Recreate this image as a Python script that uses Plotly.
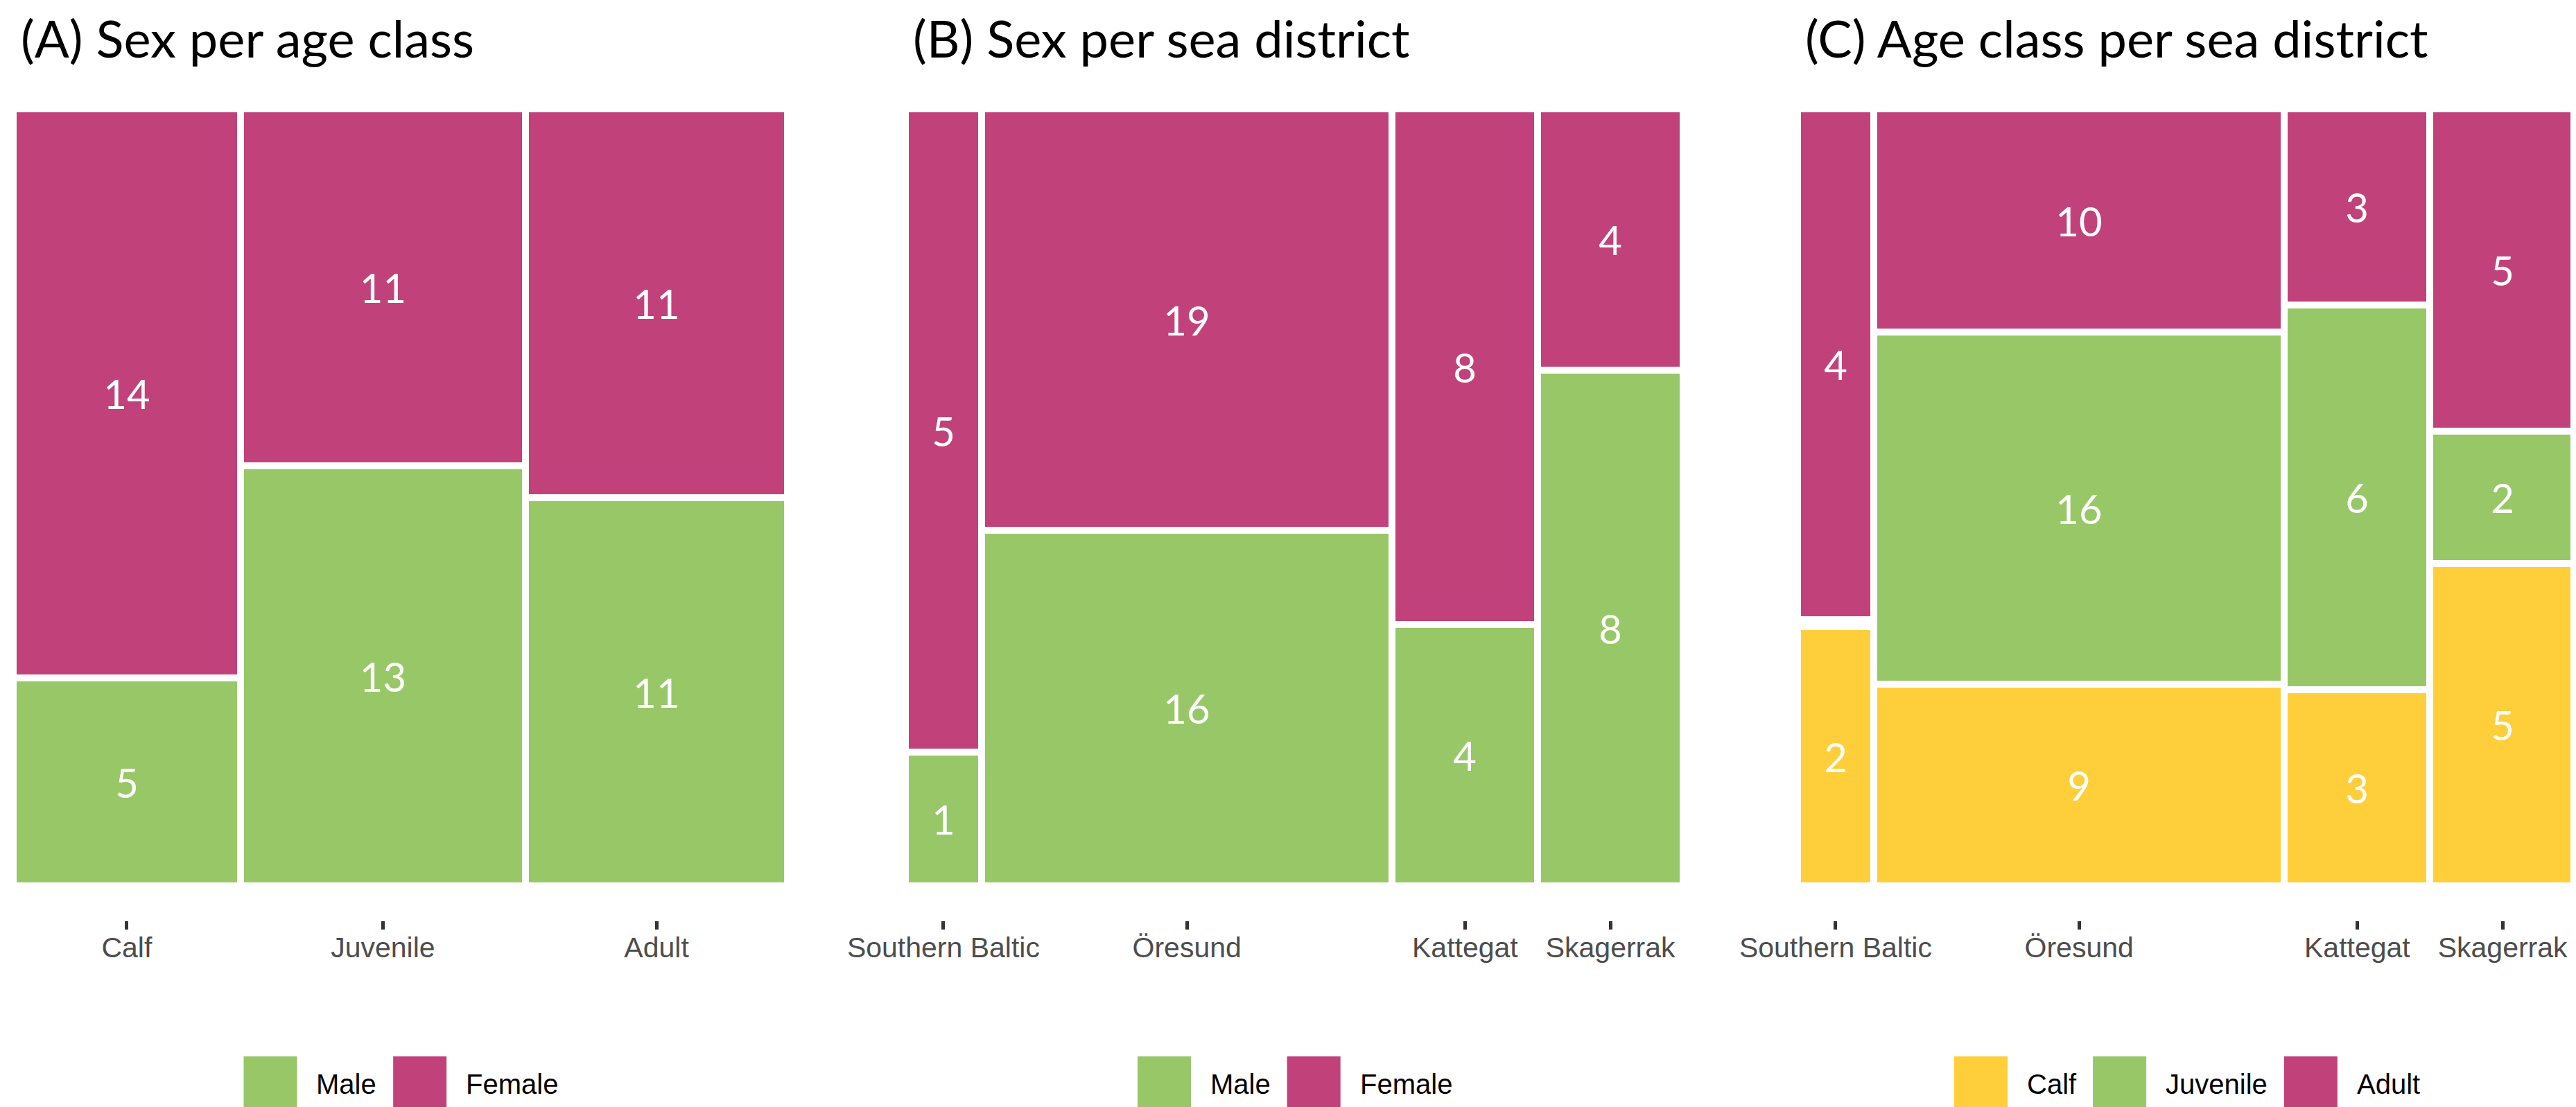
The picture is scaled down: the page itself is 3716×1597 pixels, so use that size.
import plotly.graph_objects as go

# -------------------------------
# Data (counts)
# -------------------------------
age_classes = ["Calf", "Juvenile", "Adult"]
sex_levels = ["Male", "Female"]
male_by_age = [5, 13, 11]
female_by_age = [14, 11, 11]

districts = ["Southern Baltic", "Öresund", "Kattegat", "Skagerrak"]
male_by_district = [1, 16, 4, 8]
female_by_district = [5, 19, 8, 4]

calf_by_district = [2, 9, 3, 5]
juvenile_by_district = [0, 16, 6, 2]
adult_by_district = [4, 10, 3, 5]

titles = ["(A) Sex per age class", "(B) Sex per sea district", "(C) Age class per sea district"]

# colours
GREEN = "#98C767"
PINK = "#C1427A"
YELLOW = "#FECF3A"
sex_colors = {"Male": GREEN, "Female": PINK}
age_colors = {"Calf": YELLOW, "Juvenile": GREEN, "Adult": PINK}

W, H = 3716, 1597
TITLE_FONT = "Lato"
AXIS_FONT = "Liberation Sans, Arial"

# panel placement in pixels (tile area)
panel_px = [(16, 1123), (1303, 2415), (2590, 3702)]
tile_top_px, tile_bot_px, axis_px = 154, 1265, 1320
GAP_PX = 10   # white spacing between tiles (ggmosaic-like offset)


def px_x(p):
    return p / W


def px_y(p):
    return 1 - p / H


gy = GAP_PX / (tile_bot_px - tile_top_px)
y_min = -(axis_px - tile_bot_px) / (tile_bot_px - tile_top_px)


def mosaic_traces(groups, colors, axis_id, width_px):
    """Mosaic tiles as bars with explicit base/width, spaced like ggmosaic."""
    totals = [sum(vals) for vals in zip(*groups.values())]
    n = len(totals)
    ppu = (width_px - (n - 1) * GAP_PX) / sum(totals)
    gx = GAP_PX / ppu
    centers, acc = [], 0
    for t in totals:
        centers.append(acc + t / 2)
        acc += t + gx
    x_end = acc - gx

    k = len(groups)
    avail = 1 - (k - 1) * gy
    base_run = [0.0] * n
    traces = []
    for name, vals in groups.items():
        heights = [v / t * avail for v, t in zip(vals, totals)]
        traces.append(go.Bar(
            x=centers,
            y=heights,
            base=list(base_run),
            width=totals,
            text=[str(v) if v > 0 else "" for v in vals],
            textposition="inside",
            insidetextanchor="middle",
            textangle=0,
            constraintext="none",
            textfont=dict(family=TITLE_FONT, size=58, color="white"),
            marker=dict(color=colors[name], line=dict(width=0)),
            name=name,
            showlegend=False,
            hoverinfo="skip",
            xaxis="x" + axis_id,
            yaxis="y" + axis_id,
        ))
        base_run = [b + h + gy for b, h in zip(base_run, heights)]
    return traces, centers, x_end


fig = go.Figure()

panels = [
    (age_classes, {"Male": male_by_age, "Female": female_by_age}, sex_colors),
    (districts, {"Male": male_by_district, "Female": female_by_district}, sex_colors),
    (districts, {"Calf": calf_by_district, "Juvenile": juvenile_by_district,
                 "Adult": adult_by_district}, age_colors),
]

layout_axes = {}
annotations = []
shapes = []

# rough Arial advance widths (em) for legend text placement
char_w = {"M": .833, "a": .556, "l": .222, "e": .556, "F": .611, "m": .833,
          "C": .722, "f": .278, "J": .5, "u": .556, "v": .5, "n": .556,
          "i": .222, "A": .667, "d": .556, "t": .278}
LEG_SIZE = 40
KEY = 77
KEY_GAP = 26
ITEM_GAP = 26

for i, (cats, groups, colors) in enumerate(panels):
    aid = "" if i == 0 else str(i + 1)
    x0, x1 = panel_px[i]
    traces, centers, x_end = mosaic_traces(groups, colors, aid, x1 - x0)
    for tr in traces:
        fig.add_trace(tr)
    layout_axes["xaxis" + aid] = dict(
        domain=[px_x(x0), px_x(x1)], range=[0, x_end], anchor="y" + aid,
        tickvals=centers, ticktext=cats, ticks="outside", ticklen=12, tickwidth=5,
        tickcolor="#333333", showgrid=False, zeroline=False, showline=False,
        automargin=False, ticklabelstandoff=-9,
        tickfont=dict(family=AXIS_FONT, size=41, color="#4D4D4D"),
    )
    layout_axes["yaxis" + aid] = dict(
        domain=[px_y(axis_px), px_y(tile_top_px)], range=[y_min, 1], anchor="x" + aid,
        visible=False, showgrid=False, zeroline=False, automargin=False,
    )

    # panel title
    annotations.append(dict(
        text=titles[i], xref="paper", yref="paper", x=px_x(x0 + 4), y=1,
        xanchor="left", yanchor="top", showarrow=False,
        font=dict(family=TITLE_FONT, size=74, color="black"),
    ))

    # legend under panel
    names = list(groups.keys())
    widths = [sum(char_w.get(c, .556) for c in n) * LEG_SIZE for n in names]
    total_w = sum(KEY + KEY_GAP + w for w in widths) + ITEM_GAP * (len(names) - 1)
    cx = (x0 + x1) / 2
    pos = cx - total_w / 2
    for n, w in zip(names, widths):
        shapes.append(dict(
            type="rect", xref="paper", yref="paper",
            x0=px_x(pos), x1=px_x(pos + KEY), y0=px_y(1593), y1=px_y(1516),
            fillcolor=colors[n], line=dict(width=0),
        ))
        annotations.append(dict(
            text=n, xref="paper", yref="paper", x=px_x(pos + KEY + KEY_GAP), y=px_y(1556),
            xanchor="left", yanchor="middle", showarrow=False,
            font=dict(family=AXIS_FONT, size=LEG_SIZE, color="black"),
        ))
        pos += KEY + KEY_GAP + w + ITEM_GAP

fig.update_layout(
    width=W, height=H,
    autosize=False,
    margin=dict(l=0, r=0, t=0, b=0, pad=0, autoexpand=False),
    barmode="overlay",
    bargap=0,
    plot_bgcolor="white",
    paper_bgcolor="white",
    showlegend=False,
    annotations=annotations,
    shapes=shapes,
    uniformtext=dict(mode=False),
    **layout_axes,
)

fig.write_html("out.html")
